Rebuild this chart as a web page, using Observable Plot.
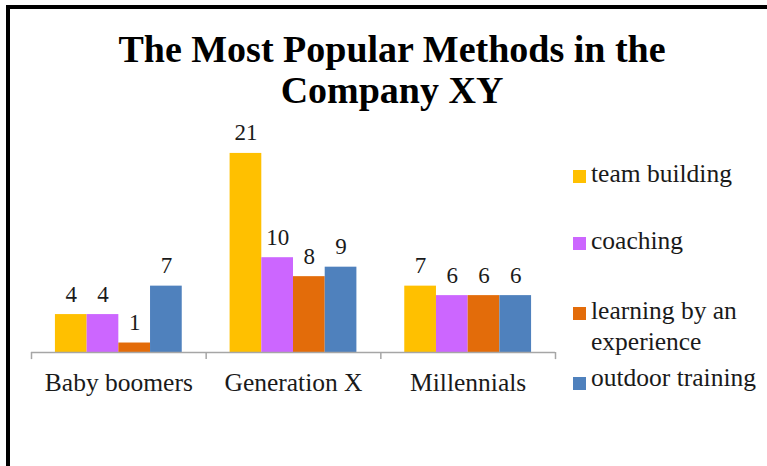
<!DOCTYPE html>
<html>
<head>
<meta charset="utf-8">
<script src="https://cdn.jsdelivr.net/npm/d3@7"></script>
<script src="https://cdn.jsdelivr.net/npm/@observablehq/plot@0.6"></script>
<style>
  html, body { margin: 0; padding: 0; background: #fff; overflow: hidden; }
  #wrap { position: relative; width: 767px; height: 466px; }
  #frame { position: absolute; left: 6px; top: 5px; width: 770px; height: 470px;
           border-top: 4px solid #000; border-left: 4px solid #000; box-sizing: border-box; }
  #title { position: absolute; left: 17px; top: 28.7px; width: 750px; text-align: center;
           font-family: "Liberation Serif", "Times New Roman", serif; font-weight: bold;
           font-size: 38px; line-height: 41px; color: #000; }
  #chart { position: absolute; left: 0; top: 0; }
  .lg-sw { position: absolute; left: 573px; width: 13px; height: 13px; }
  .lg-tx { position: absolute; left: 591px; font-family: "Liberation Serif", "Times New Roman", serif;
           font-size: 25.5px; line-height: 28px; color: #1a1a1a; white-space: nowrap; }
</style>
</head>
<body>
<div id="wrap">
  <div id="chart"></div>
  <div id="frame"></div>
  <div id="title">The Most Popular Methods in the<br>Company XY</div>
  <div id="legend"></div>
</div>
<script>
const groups = ["Baby boomers", "Generation X", "Millennials"];
const methods = ["team building", "coaching", "learning by an experience", "outdoor training"];
const teamBuilding = [4, 21, 7];
const coaching = [4, 10, 6];
const learningByExperience = [1, 8, 6];
const outdoorTraining = [7, 9, 6];
const colors = ["#FFC000", "#CC66FF", "#E36C0A", "#4F81BD"];

const series = [teamBuilding, coaching, learningByExperience, outdoorTraining];
const rows = [];
groups.forEach((g, gi) => methods.forEach((m, mi) => rows.push({group: g, method: m, gi, mi, value: series[mi][gi]})));

// layout within a category band (fractions of the band)
const groupPad = 0.137, barW = 0.1815;
const bx1 = d => d.gi + groupPad + d.mi * barW;
const bx2 = d => d.gi + groupPad + (d.mi + 1) * barW;
const bxc = d => d.gi + groupPad + (d.mi + 0.5) * barW;

const chart = Plot.plot({
  width: 767,
  height: 466,
  marginLeft: 31,
  marginRight: 212,
  marginTop: 115,
  marginBottom: 114,
  style: {background: "transparent", fontFamily: "'Liberation Serif', 'Times New Roman', serif", fontSize: "25.5px", color: "#1a1a1a", overflow: "visible"},
  x: {domain: [0, groups.length], ticks: groups.map((g, i) => i + 0.5), tickFormat: v => groups[Math.floor(v)], tickSize: 0, tickPadding: 20, label: null},
  y: {domain: [0, 25], axis: null},
  color: {domain: methods, range: colors},
  marks: [
    Plot.rect(rows, {x1: bx1, x2: bx2, y1: 0, y2: "value", fill: "method"}),
    Plot.ruleY([0], {stroke: "#a6a6a6", strokeWidth: 1.5}),
    Plot.ruleX(d3.range(groups.length + 1), {y1: 0, y2: -0.75, stroke: "#a6a6a6", strokeWidth: 1.5}),
    Plot.text(rows, {x: bxc, y: "value", text: d => String(d.value), lineAnchor: "bottom", dy: -13, fill: "#1a1a1a", fontSize: 23})
  ]
});
document.getElementById("chart").appendChild(chart);

// legend
const legendTops = [160.4, 227.4, 294.9, 364.4];
const swatchTops = [170, 237, 307, 377];
const legendLabels = [["team building"], ["coaching"], ["learning by an", "experience"], ["outdoor training"]];
const legend = document.getElementById("legend");
methods.forEach((m, i) => {
  const sw = document.createElement("div");
  sw.className = "lg-sw";
  sw.style.top = swatchTops[i] + "px";
  sw.style.background = colors[i];
  legend.appendChild(sw);
  const tx = document.createElement("div");
  tx.className = "lg-tx";
  tx.style.top = legendTops[i] + "px";
  if (legendLabels[i].length > 1) tx.style.lineHeight = "31px";
  tx.innerHTML = legendLabels[i].join("<br>");
  legend.appendChild(tx);
});
</script>
</body>
</html>
